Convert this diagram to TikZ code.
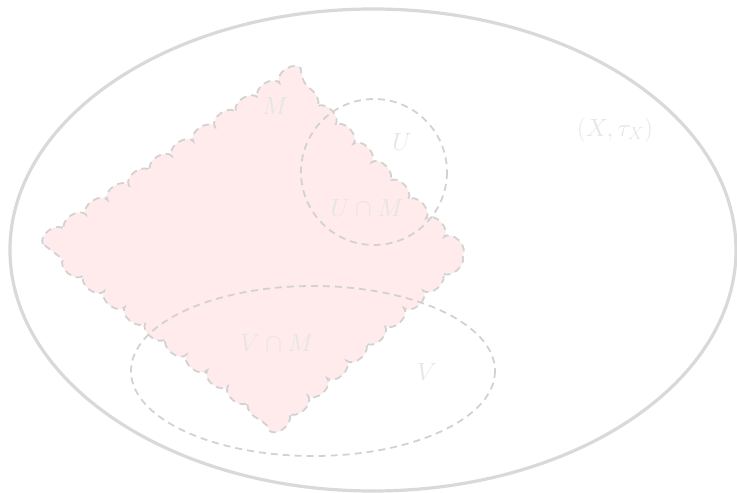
\documentclass[tikz,border=0pt]{standalone}
\usepackage{amsmath,amssymb}
\usepackage{xcolor}
\usetikzlibrary{decorations.pathmorphing}

\begin{document}
\begin{tikzpicture}[
        x=1pt, y=-1pt,
        space/.style={draw=gray!30, line width=3.2pt},
        subset/.style={draw=gray!35, line width=1.8pt, dash pattern=on 7pt off 5pt},
        manifold/.style={subset, fill=red!8, decorate, decoration={bumps, segment length=52pt, amplitude=8pt}},
        lbl/.style={text=gray!20, font=\fontsize{24}{28}\selectfont},
    ]
        \useasboundingbox (0,0) rectangle (737,493);

        % Ambient space
        \draw[space] (373,250) ellipse [x radius=363, y radius=241];

        % Submanifold M
        \draw[manifold] (43,244) -- (288,77) -- (462,255) -- (277,424) -- cycle;

        % Open sets
        \draw[subset] (374,172) circle [radius=73];
        \draw[subset] (313,371) ellipse [x radius=182, y radius=85];

        % Labels
        \node[lbl] (m) at (275,106) {$M$};
        \node[lbl] (u) at (402,142) {$U$};
        \node[lbl] (um) at (367,208) {$U\cap M$};
        \node[lbl] (vm) at (277,343) {$V\cap M$};
        \node[lbl] (v) at (427,372) {$V$};
        \node[lbl] (x) at (615,130) {$(X,\tau_X)$};
    \end{tikzpicture}
\end{document}
